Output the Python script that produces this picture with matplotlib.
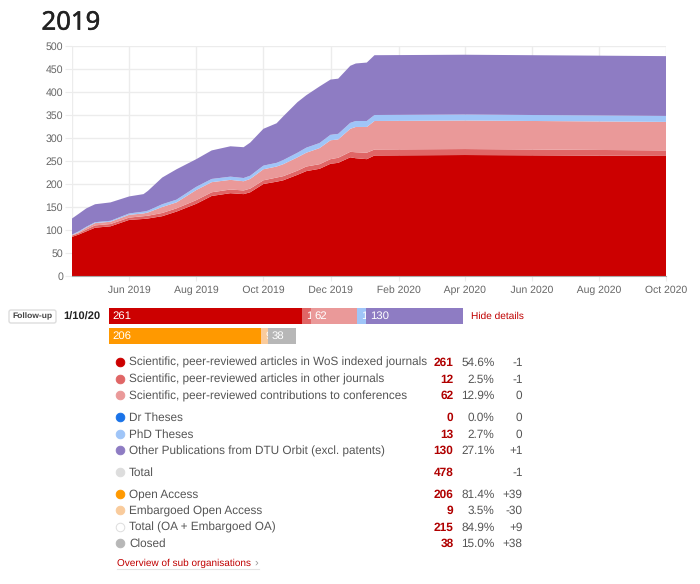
"""
Publication counts per category for 2019, stacked area with follow-up bars
and a details table underneath.
"""

import matplotlib
matplotlib.use("Agg")
import matplotlib.dates as mdates
import matplotlib.patheffects as pe
import matplotlib.pyplot as plt
import pandas as pd
from matplotlib.patches import FancyBboxPatch

# ── Data ────────────────────────────────────────────────────────────────
DATES = ["2019-04-10", "2019-04-16", "2019-04-23", "2019-05-01", "2019-05-15",
         "2019-06-01", "2019-06-14", "2019-06-18", "2019-07-01", "2019-07-14",
         "2019-08-01", "2019-08-15", "2019-09-01", "2019-09-13", "2019-09-19",
         "2019-10-01", "2019-10-13", "2019-10-19", "2019-11-01", "2019-11-09",
         "2019-11-21", "2019-12-01", "2019-12-08", "2019-12-19", "2019-12-24",
         "2020-01-03", "2020-01-10", "2020-04-01", "2020-10-01"]
WOS = [85, 90, 97, 105, 108, 122, 124, 125, 130, 140, 157, 174, 180, 178, 182,
       200, 205, 208, 220, 228, 233, 244, 246, 258, 256, 254, 262, 263, 261]
OTHER_JOURNALS = [3, 3, 4, 5, 5, 5, 6, 6, 7, 7, 8, 8, 8, 8, 8,
                  8, 9, 9, 9, 10, 10, 10, 11, 12, 13, 14, 13, 13, 12]
CONFERENCES = [1, 2, 4, 5, 5, 6, 6, 7, 13, 13, 22, 22, 21, 20, 21,
               24, 24, 26, 29, 30, 35, 41, 40, 50, 55, 56, 62, 62, 62]
PHD = [1, 2, 2, 2, 2, 3, 4, 4, 6, 6, 7, 7, 7, 7, 7,
       8, 8, 9, 10, 11, 11, 12, 12, 13, 13, 13, 13, 13, 13]
OTHER_PUBS = [35, 38, 40, 39, 40, 37, 38, 43, 58, 66, 60, 62, 66, 67, 72,
              80, 86, 95, 110, 114, 123, 120, 120, 124, 125, 127, 130, 130, 130]

BAR_TOP = [261, 12, 62, 0, 13, 130]
BAR_BOTTOM = [206, 9, 38]

ROW_LABELS = ["Scientific, peer-reviewed articles in WoS indexed journals",
              "Scientific, peer-reviewed articles in other journals",
              "Scientific, peer-reviewed contributions to conferences",
              "Dr Theses", "PhD Theses",
              "Other Publications from DTU Orbit (excl. patents)",
              "Total", "Open Access", "Embargoed Open Access",
              "Total (OA + Embargoed OA)", "Closed"]
ROW_COUNTS = ["261", "12", "62", "0", "13", "130", "478", "206", "9", "215", "38"]
ROW_SHARES = ["54.6%", "2.5%", "12.9%", "0.0%", "2.7%", "27.1%", "",
              "81.4%", "3.5%", "84.9%", "15.0%"]
ROW_CHANGES = ["-1", "-1", "0", "0", "0", "+1", "-1", "+39", "-30", "+9", "+38"]

# ── Style ───────────────────────────────────────────────────────────────
W, H = 700, 584
RED = "#cc0000"
C_OTHER_J = "#e06666"
C_CONF = "#ea9999"
C_DR = "#1a73e8"
C_PHD = "#9fc5f8"
C_OTHER = "#8e7cc3"
C_OA = "#ff9900"
C_EMB = "#f9cb9c"
C_CLOSED = "#b7b7b7"
ROW_COLORS = [RED, C_OTHER_J, C_CONF, C_DR, C_PHD, C_OTHER, "#dddddd",
              C_OA, C_EMB, "white", C_CLOSED]
ROW_Y = [361.5, 378.5, 395, 416.5, 433.5, 450, 471.5, 493.5, 510, 526.5, 543]

plt.rcParams["font.family"] = ["Liberation Sans", "DejaVu Sans"]
plt.rcParams["text.hinting"] = "no_hinting"
plt.rcParams["text.hinting_factor"] = 8


def px_axes(fig, left, top, right, bottom):
    """Axes placed by pixel box, measured from the top left of the figure."""
    return fig.add_axes([left / W, 1 - bottom / H, (right - left) / W, (bottom - top) / H])


fig = plt.figure(figsize=(W / 100, H / 100), dpi=100)

# ── Area chart ──────────────────────────────────────────────────────────
ax = px_axes(fig, 72, 46, 666, 276)
dates = pd.to_datetime(DATES)
ax.stackplot(dates, WOS, OTHER_JOURNALS, CONFERENCES, PHD, OTHER_PUBS,
             colors=[RED, C_OTHER_J, C_CONF, C_PHD, C_OTHER], linewidth=0, zorder=2)
ax.set_xlim(dates[0], dates[-1])
ax.set_ylim(0, 500)
ax.set_yticks(range(0, 501, 50))
ax.xaxis.set_major_locator(mdates.MonthLocator(bymonth=[2, 4, 6, 8, 10, 12]))
ax.xaxis.set_major_formatter(mdates.DateFormatter("%b %Y"))
ax.grid(True, color="#ececec", linewidth=1, zorder=0)
ax.set_axisbelow(True)
ax.axvline(dates[0], color="#ececec", linewidth=1, zorder=0)
for side in ["top", "right", "left"]:
    ax.spines[side].set_visible(False)
ax.spines["bottom"].set_color("#aaaaaa")
ax.tick_params(axis="y", length=5, color="#ececec", labelsize=7.6, labelcolor="#666666", pad=1.5)
ax.tick_params(axis="x", length=3.5, color="#ececec", labelsize=7.5, labelcolor="#666666", pad=8.7)
# drawn as paths so "Feb" keeps the same baseline as the other months
plt.setp(ax.get_xticklabels(), va="baseline", path_effects=[pe.Normal()])

# ── Follow-up bars ──────────────────────────────────────────────────────
bar_ax = px_axes(fig, 108.5, 306, 462.5, 347)
bar_ax.set_xlim(0, sum(BAR_TOP))
bar_ax.set_ylim(1.55, -0.48)
bar_ax.axis("off")


def draw_bar(y, values, colors):
    left = 0
    for value, color in zip(values, colors):
        if value:
            patch = bar_ax.barh(y, value, left=left, height=0.8, color=color, linewidth=0)[0]
            label = bar_ax.text(left + 5.5, y, str(value), color="white", fontsize=8.2,
                                va="center", ha="left")
            label.set_clip_path(patch)
            label.set_clip_on(True)
        left += value


draw_bar(0, BAR_TOP, [RED, C_OTHER_J, C_CONF, C_DR, C_PHD, C_OTHER])
draw_bar(1, BAR_BOTTOM, [C_OA, C_EMB, C_CLOSED])

# ── Page overlay: title, button, table ──────────────────────────────────
page = px_axes(fig, 0, 0, W, H)
page.set_xlim(0, W)
page.set_ylim(H, 0)
page.axis("off")
page.patch.set_alpha(0)

title = page.text(41.5, 23, "2019", family="Noto Sans", fontsize=18.5,
                  color="#222222", va="center", ha="left")
title.set_path_effects([pe.withStroke(linewidth=0.35, foreground="#222222")])

page.add_patch(FancyBboxPatch((9, 310), 47, 13, boxstyle="round,pad=0,rounding_size=2",
                              facecolor="white", edgecolor="#dddddd", linewidth=1))
page.text(32.5, 316.5, "Follow-up", fontsize=6.1, weight="bold", color="#444444",
          va="center", ha="center")
page.text(81.5, 316.5, "1/10/20", fontsize=8, weight="bold", color="#222222",
          va="center", ha="center")
page.text(471, 316.5, "Hide details", fontsize=7.3, color="#c00000", va="center", ha="left")

for i, label in enumerate(ROW_LABELS):
    y = ROW_Y[i]
    edge = "#dddddd" if ROW_COLORS[i] == "white" else ROW_COLORS[i]
    page.scatter(120, y, s=38, facecolor=ROW_COLORS[i], edgecolor=edge, linewidth=0.7)
    page.text(129, y + 4.3, label, fontsize=8.45, color="#555555", va="baseline", ha="left")
    page.text(453.5, y + 4.3, ROW_COUNTS[i], fontsize=8.6, weight="bold", color="#b00000",
              va="baseline", ha="right")
    page.text(494.5, y + 4.3, ROW_SHARES[i], fontsize=8.5, color="#555555", va="baseline", ha="right")
    page.text(522.5, y + 4.3, ROW_CHANGES[i], fontsize=8.5, color="#555555", va="baseline", ha="right")

page.text(117, 563, "Overview of sub organisations", fontsize=7.2, color="#c00000",
          va="center", ha="left")
page.text(254.5, 563, "›", fontsize=8, color="#999999", va="center", ha="left")
page.plot([117, 259], [569, 569], color="#e4e4e4", linewidth=0.8)

fig.savefig("out.png", dpi=100)
